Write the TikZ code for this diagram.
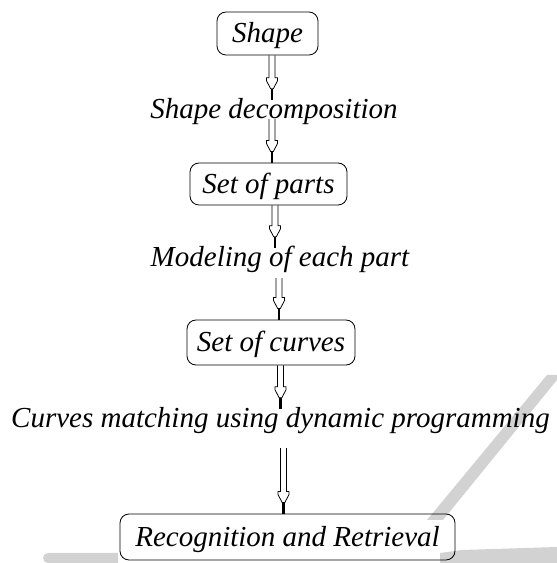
\documentclass[tikz,border=0pt]{standalone}
\usepackage{fontspec}
\setmainfont{Liberation Serif}
\usetikzlibrary{calc}
\tikzset{
  box/.style={draw, line width=0.8pt, rounded corners=9pt, inner sep=0pt,
    font=\fontsize{29}{34}\selectfont\itshape, text height=19pt, text depth=0pt},
  lbl/.style={inner sep=0pt, font=\fontsize{29}{34}\selectfont\itshape,
    text height=19pt, text depth=0pt, anchor=base},
  arr/.style={draw, line width=0.8pt, line join=miter},
  wmark/.style={fill=gray!35, draw=none}
}
\newcommand\harrow[4]{%
  \draw[arr] let \p1=(#1.south), \p2=(#2.north) in
    (\x1+#3-3pt,\y1-#4) -- (\x1+#3-3pt,\y2+22pt) -- (\x1+#3-5.5pt,\y2+22pt)
    -- (\x1+#3-5.5pt,\y2+19pt) -- (\x1+#3-1.3pt,\y2+11pt) -- (\x1+#3+1.3pt,\y2+11pt)
    -- (\x1+#3+5.5pt,\y2+19pt) -- (\x1+#3+5.5pt,\y2+22pt) -- (\x1+#3+3pt,\y2+22pt)
    -- (\x1+#3+3pt,\y1-#4);
  \fill let \p1=(#1.south), \p2=(#2.north) in
    (\x1+#3-1.3pt,\y2+11pt) rectangle (\x1+#3+1.3pt,\y2);
}
\begin{document}
\begin{tikzpicture}[x=1pt,y=1pt]
\useasboundingbox (0,0) rectangle (557,563);
% watermark fragments
\path[wmark] (547,188) -- (561,188) -- (443,43) -- (427,43) -- cycle;
\path[wmark] (48,0) -- (118,0) -- (118,10) -- (48,10) arc[start angle=90, end angle=270, radius=5] -- cycle;
\path[wmark] (440,0) -- (557,0) -- (557,16) -- (462,13) -- (440,10) -- cycle;
% boxes
\node[box, minimum width=101pt, minimum height=43pt] (shape) at (267.5,529.5) {Shape};
\node[box, minimum width=157pt, minimum height=42pt] (parts) at (268.5,379) {Set of parts};
\node[box, minimum width=168pt, minimum height=45pt] (curves) at (271,220.5) {Set of curves};
\node[box, minimum width=335pt, minimum height=46pt] (recog) at (287.5,26) {Recognition and Retrieval};
% labels
\node[lbl] (l1) at (274,444) {Shape decomposition};
\node[lbl] (l2) at (280,296) {Modeling of each part};
\node[lbl] (l3) at (280.5,135) {Curves matching using dynamic programming};
% arrows
\harrow{shape}{l1}{4.5pt}{0pt}
\harrow{l1}{parts}{-2pt}{0pt}
\harrow{parts}{l2}{6.5pt}{0pt}
\harrow{l2}{curves}{-1pt}{11pt}
\harrow{curves}{l3}{9.5pt}{0pt}
\harrow{l3}{recog}{3pt}{20pt}
\end{tikzpicture}
\end{document}
